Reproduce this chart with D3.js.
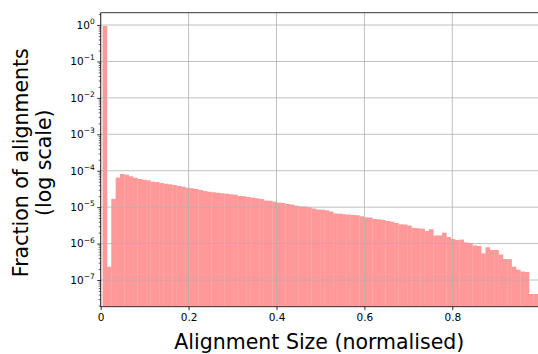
<!DOCTYPE html>
<html>
<head>
<meta charset="utf-8">
<script src="https://cdn.jsdelivr.net/npm/d3@7"></script>
<style>
  body { margin: 0; background: #fff; }
  svg { display: block; font-family: "DejaVu Sans", sans-serif; }
</style>
</head>
<body>
<svg id="chart" width="538" height="354"></svg>
<script>
'use strict';

/* histogram: fraction of alignments per normalised-size bin */
var firstEdge = 0.0043,
    binWidth = 0.0099;

var fractions = [
  0.94, 2.32e-7, 1.69e-5, 6.47e-5, 8.13e-5, 7.78e-5, 7.03e-5, 6.43e-5, 5.93e-5, 5.67e-5,
  5.46e-5, 5.00e-5, 4.90e-5, 4.60e-5, 4.40e-5, 4.24e-5, 4.06e-5, 3.81e-5, 3.64e-5, 3.42e-5,
  3.29e-5, 3.15e-5, 2.96e-5, 2.78e-5, 2.65e-5, 2.56e-5, 2.49e-5, 2.40e-5, 2.34e-5, 2.25e-5,
  2.20e-5, 2.02e-5, 1.99e-5, 1.90e-5, 1.82e-5, 1.75e-5, 1.67e-5, 1.52e-5, 1.50e-5, 1.41e-5,
  1.33e-5, 1.30e-5, 1.22e-5, 1.18e-5, 1.10e-5, 1.05e-5, 1.04e-5, 9.91e-6, 9.18e-6, 8.61e-6,
  8.51e-6, 8.19e-6, 7.60e-6, 6.70e-6, 6.61e-6, 6.40e-6, 6.28e-6, 6.09e-6, 6.01e-6, 5.61e-6,
  5.26e-6, 5.20e-6, 4.73e-6, 4.64e-6, 4.44e-6, 4.17e-6, 3.99e-6, 3.67e-6, 3.38e-6, 3.34e-6,
  3.13e-6, 2.68e-6, 2.63e-6, 2.59e-6, 2.21e-6, 2.47e-6, 1.67e-6, 1.67e-6, 1.99e-6, 1.52e-6,
  1.34e-6, 1.25e-6, 1.29e-6, 1.08e-6, 1.04e-6, 8.86e-7, 8.59e-7, 5.41e-7, 7.91e-7, 6.67e-7,
  6.67e-7, 5.01e-7, 3.77e-7, 3.73e-7, 2.32e-7, 1.92e-7, 1.71e-7, 1.66e-7, 4.13e-8, 4.13e-8
];

var xTicks = [0, 0.2, 0.4, 0.6, 0.8],
    xTickLabels = ["0", "0.2", "0.4", "0.6", "0.8"],
    yExponents = [0, -1, -2, -3, -4, -5, -6, -7];

var plotLeft = 100.7, plotRight = 540.2, plotTop = 12.7, plotBottom = 306.7;

var svg = d3.select("#chart");

var x = d3.scaleLinear().domain([0, 1]).range([plotLeft, plotRight]),
    y = d3.scaleLog().domain([1.85e-8, 2.18]).range([plotBottom, plotTop]);

/* bars */
svg.append("g")
  .selectAll("rect")
  .data(fractions)
  .enter().append("rect")
  .attr("x", function(d, i) { return x(firstEdge + i * binWidth); })
  .attr("width", function(d, i) { return x(firstEdge + (i + 1) * binWidth) - x(firstEdge + i * binWidth) + 0.3; })
  .attr("y", function(d) { return y(d); })
  .attr("height", function(d) { return plotBottom - y(d); })
  .style("fill", "#ff9999");

/* grid (drawn over bars, as in the original) */
var grid = svg.append("g").style("stroke", "#b0b0b0").style("stroke-width", 0.8);
grid.selectAll("line.gx")
  .data(xTicks)
  .enter().append("line")
  .attr("x1", function(d) { return x(d); }).attr("x2", function(d) { return x(d); })
  .attr("y1", plotTop).attr("y2", plotBottom);
grid.selectAll("line.gy")
  .data(yExponents)
  .enter().append("line")
  .attr("y1", function(d) { return y(Math.pow(10, d)); }).attr("y2", function(d) { return y(Math.pow(10, d)); })
  .attr("x1", plotLeft).attr("x2", plotRight);

/* spines */
var spines = svg.append("g").style("stroke", "#000").style("stroke-width", 0.8);
spines.append("line").attr("x1", plotLeft).attr("x2", plotLeft).attr("y1", plotTop).attr("y2", plotBottom);
spines.append("line").attr("x1", plotLeft).attr("x2", plotRight).attr("y1", plotBottom).attr("y2", plotBottom);
spines.append("line").attr("x1", plotLeft).attr("x2", plotRight).attr("y1", plotTop).attr("y2", plotTop);
spines.append("line").attr("x1", plotRight).attr("x2", plotRight).attr("y1", plotTop).attr("y2", plotBottom);

/* x axis */
var xAxis = d3.axisBottom(x)
  .tickValues(xTicks)
  .tickFormat(function(d, i) { return xTickLabels[i]; })
  .tickSize(3.5)
  .tickPadding(3.5);
var gx = svg.append("g").attr("transform", "translate(0," + plotBottom + ")").call(xAxis);
gx.select(".domain").remove();
gx.selectAll("line").style("stroke-width", 0.8);
gx.selectAll("text").style("font-size", "10.5px").style("font-family", "DejaVu Sans").style("fill", "#000");

/* y axis: minor ticks */
var minor = [];
d3.range(-8, 1).forEach(function(e) {
  d3.range(2, 10).forEach(function(k) {
    var v = k * Math.pow(10, e);
    if (v > y.domain()[0] && v < y.domain()[1]) minor.push(v);
  });
});
var yMinor = d3.axisLeft(y).tickValues(minor).tickFormat("").tickSize(2);
var gym = svg.append("g").attr("transform", "translate(" + plotLeft + ",0)").call(yMinor);
gym.select(".domain").remove();
gym.selectAll("line").style("stroke-width", 0.6);

/* y axis: major ticks */
var yMajor = d3.axisLeft(y)
  .tickValues(yExponents.map(function(e) { return Math.pow(10, e); }))
  .tickFormat("")
  .tickSize(3.5);
var gy = svg.append("g").attr("transform", "translate(" + plotLeft + ",0)").call(yMajor);
gy.select(".domain").remove();
gy.selectAll("line").style("stroke-width", 0.8);

var labels = svg.append("g").style("font-size", "10.5px").style("fill", "#000");
yExponents.forEach(function(e) {
  var t = labels.append("text")
    .attr("x", plotLeft - 6)
    .attr("y", y(Math.pow(10, e)) + 3.8)
    .attr("text-anchor", "end");
  t.append("tspan").text("10");
  t.append("tspan")
    .attr("dy", -4.8)
    .style("font-size", "7.5px")
    .text(e === 0 ? "0" : "\u2212" + (-e));
});

/* axis titles */
svg.append("text")
  .attr("x", (plotLeft + 538) / 2)
  .attr("y", 348.5)
  .attr("text-anchor", "middle")
  .style("font-size", "20.5px")
  .text("Alignment Size (normalised)");

var yt = svg.append("text")
  .attr("transform", "translate(27.5," + ((plotTop + plotBottom) / 2 + 3) + ") rotate(-90)")
  .attr("text-anchor", "middle")
  .style("font-size", "20.5px");
yt.append("tspan").attr("x", 0).attr("y", 0).text("Fraction of alignments");
yt.append("tspan").attr("x", 0).attr("y", 23).text("(log scale)");
</script>
</body>
</html>
